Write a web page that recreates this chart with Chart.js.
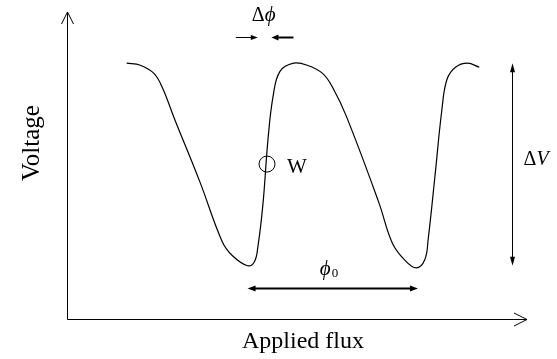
<!DOCTYPE html>
<html>
<head>
<meta charset="utf-8">
<script src="https://cdn.jsdelivr.net/npm/chart.js@4/dist/chart.umd.min.js"></script>
<style>
  html, body { margin: 0; padding: 0; background: #fff; }
  canvas { display: block; }
</style>
</head>
<body>
<canvas id="fluxChart" width="557" height="359"></canvas>
<script>
// V-phi curve, flux in units of phi0, voltage in units of the swing
const fluxValues = [0.35, 0.43, 0.51, 0.56, 0.63, 0.78, 0.91, 0.97, 1.06, 1.10, 1.12, 1.15, 1.18, 1.21, 1.25, 1.33, 1.41, 1.50, 1.56, 1.64, 1.83, 1.91, 1.98, 2.05, 2.10, 2.12, 2.16, 2.20, 2.23, 2.28, 2.35, 2.42];
const voltageValues = [1.25, 1.24, 1.20, 1.13, 0.98, 0.67, 0.38, 0.31, 0.26, 0.28, 0.35, 0.56, 0.88, 1.09, 1.21, 1.25, 1.24, 1.20, 1.13, 0.99, 0.57, 0.37, 0.29, 0.25, 0.29, 0.39, 0.70, 1.02, 1.17, 1.23, 1.25, 1.23];

// working point W on the steep slope
const workingPoint = [1.174, 0.757];

// annotation spans: [from, to]
const swingRange = [1.25, 0.26];     // delta V, drawn at swingFlux
const swingFlux = 2.61;
const periodRange = [1.06, 2.06];    // phi0, drawn at periodLevel
const periodLevel = 0.15;
const slopeGap = [1.12, 1.20];       // delta phi markers, drawn at slopeLevel
const slopeLevel = 1.38;

const serif = "'Liberation Serif', 'Times New Roman', Times, 'DejaVu Serif', serif";

function arrowHead(ctx, x, y, dx, dy, len, half) {
    // filled head with its tip at (x, y), pointing along (dx, dy)
    ctx.beginPath();
    ctx.moveTo(x, y);
    ctx.lineTo(x - dx * len - dy * half, y - dy * len + dx * half);
    ctx.lineTo(x - dx * len + dy * half, y - dy * len - dx * half);
    ctx.closePath();
    ctx.fill();
}

const sketchPlugin = {
    id: 'sketch',
    afterDatasetsDraw(chart) {
        const { ctx, chartArea: a, scales: { x, y } } = chart;
        ctx.save();
        ctx.strokeStyle = '#000';
        ctx.fillStyle = '#000';
        ctx.lineWidth = 1;

        // axes with open arrow heads
        const ox = Math.round(a.left) + 0.5, oy = Math.round(a.bottom) + 0.5;
        ctx.beginPath();
        ctx.moveTo(ox, a.top);
        ctx.lineTo(ox, oy);
        ctx.lineTo(a.right, oy);
        ctx.moveTo(ox - 6, a.top + 12);
        ctx.lineTo(ox, a.top);
        ctx.lineTo(ox + 6, a.top + 12);
        ctx.moveTo(a.right - 13, oy - 6.5);
        ctx.lineTo(a.right, oy);
        ctx.lineTo(a.right - 13, oy + 6.5);
        ctx.stroke();

        // delta V double arrow
        const vx = Math.round(x.getPixelForValue(swingFlux)) + 0.5;
        const vTop = y.getPixelForValue(swingRange[0]);
        const vBot = y.getPixelForValue(swingRange[1]);
        ctx.beginPath();
        ctx.moveTo(vx, vTop + 6);
        ctx.lineTo(vx, vBot - 6);
        ctx.stroke();
        arrowHead(ctx, vx, vTop, 0, -1, 9, 2.5);
        arrowHead(ctx, vx, vBot, 0, 1, 9, 2.5);

        // phi0 period arrow
        const py = Math.round(y.getPixelForValue(periodLevel)) + 0.5;
        const pL = x.getPixelForValue(periodRange[0]);
        const pR = x.getPixelForValue(periodRange[1]);
        ctx.lineWidth = 2;
        ctx.beginPath();
        ctx.moveTo(pL + 6, py);
        ctx.lineTo(pR - 6, py);
        ctx.stroke();
        arrowHead(ctx, pL, py, -1, 0, 8, 3);
        arrowHead(ctx, pR, py, 1, 0, 8, 3);

        // delta phi pinch markers
        const sy = Math.round(y.getPixelForValue(slopeLevel)) + 0.5;
        const sL = x.getPixelForValue(slopeGap[0]);
        const sR = x.getPixelForValue(slopeGap[1]);
        ctx.lineWidth = 1;
        ctx.beginPath();
        ctx.moveTo(sL - 22, sy);
        ctx.lineTo(sL - 5, sy);
        ctx.stroke();
        arrowHead(ctx, sL, sy, 1, 0, 7, 2.5);
        ctx.lineWidth = 2;
        ctx.beginPath();
        ctx.moveTo(sR + 22, sy);
        ctx.lineTo(sR + 5, sy);
        ctx.stroke();
        arrowHead(ctx, sR, sy, -1, 0, 7, 3);

        // labels
        ctx.textBaseline = 'alphabetic';
        ctx.textAlign = 'left';
        ctx.font = '21px ' + serif;
        const wx = x.getPixelForValue(workingPoint[0]);
        const wy = y.getPixelForValue(workingPoint[1]);
        ctx.fillText('W', wx + 20, wy + 9);

        ctx.font = '20px ' + serif;
        ctx.fillText('\u0394', vx + 11, 165);
        ctx.font = 'italic 20px ' + serif;
        ctx.fillText('V', vx + 24, 165);

        const mid = (sL + sR) / 2;
        ctx.font = '20px ' + serif;
        ctx.fillText('\u0394', mid - 13, 21);
        ctx.font = 'italic 21px ' + serif;
        ctx.fillText('\u03d5', mid, 21);

        const pm = (pL + pR) / 2;
        ctx.font = 'italic 21px ' + serif;
        ctx.fillText('\u03d5', pm - 13, 275);
        ctx.font = '13px ' + serif;
        ctx.fillText('0', pm - 1, 277);

        ctx.font = '24px ' + serif;
        ctx.textAlign = 'center';
        ctx.fillText('Applied flux', (a.left + a.right) / 2 + 6, 348);

        ctx.font = '25px ' + serif;
        ctx.translate(39, 143);
        ctx.rotate(-Math.PI / 2);
        ctx.fillText('Voltage', 0, 0);
        ctx.restore();
    }
};

new Chart(document.getElementById('fluxChart'), {
    type: 'scatter',
    data: {
        datasets: [{
            data: fluxValues.map((f, i) => ({ x: f, y: voltageValues[i] })),
            showLine: true,
            borderColor: '#000',
            borderWidth: 1.2,
            tension: 0.4,
            pointRadius: 0
        }, {
            data: [{ x: workingPoint[0], y: workingPoint[1] }],
            showLine: false,
            pointRadius: 8,
            pointBorderWidth: 1,
            pointBorderColor: '#000',
            pointBackgroundColor: 'rgba(0,0,0,0)'
        }]
    },
    options: {
        responsive: false,
        animation: false,
        devicePixelRatio: 1,
        layout: { padding: { left: 67, right: 30, top: 12, bottom: 40 } },
        plugins: { legend: { display: false }, tooltip: { enabled: false } },
        scales: {
            x: { type: 'linear', min: 0, max: 2.7, display: false },
            y: { type: 'linear', min: 0, max: 1.5, display: false }
        }
    },
    plugins: [sketchPlugin]
});
</script>
</body>
</html>
